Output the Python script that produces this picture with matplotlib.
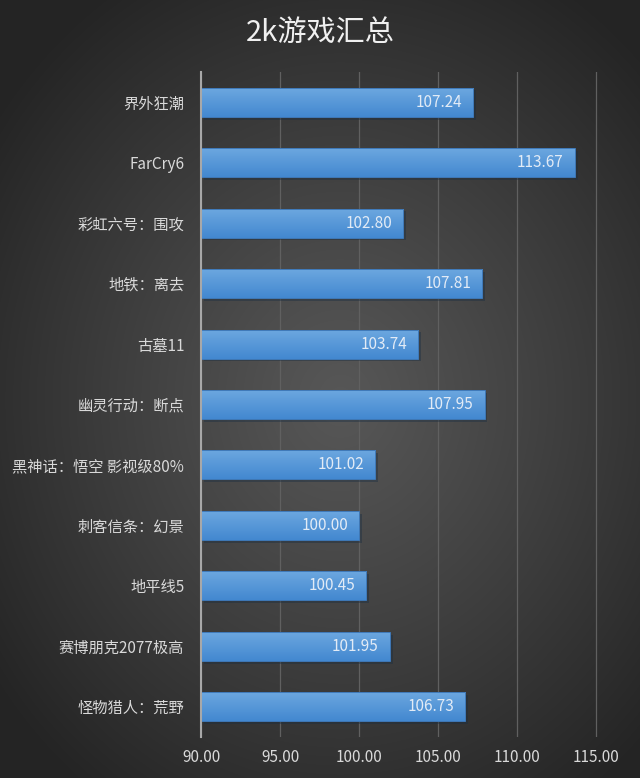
import numpy as np
import matplotlib
matplotlib.use("Agg")
import matplotlib.pyplot as plt
import matplotlib.patheffects as pe
from matplotlib.colors import LinearSegmentedColormap

plt.rcParams['font.family'] = ['Noto Sans CJK SC', 'DejaVu Sans']

# 数据（从上到下）
games = ['界外狂潮', 'FarCry6', '彩虹六号：围攻', '地铁：离去', '古墓11',
         '幽灵行动：断点', '黑神话：悟空 影视级80%', '刺客信条：幻景',
         '地平线5', '赛博朋克2077极高', '怪物猎人：荒野']
scores = [107.24, 113.67, 102.80, 107.81, 103.74,
          107.95, 101.02, 100.00, 100.45, 101.95, 106.73]
xticks = [90, 95, 100, 105, 110, 115]

W, H = 640, 778
fig = plt.figure(figsize=(W / 100, H / 100), dpi=100)

# 径向渐变背景
bg = fig.add_axes([0, 0, 1, 1])
yy, xx = np.mgrid[0:H, 0:W]
r = np.sqrt(((xx - 340) / 420.0) ** 2 + ((yy - 400) / 480.0) ** 2)
r = np.clip(r, 0, 1)
inner, outer = 0x57, 0x25
g = (inner + (outer - inner) * r ** 1.1) / 255.0
bg.imshow(np.dstack([g, g, g]), aspect='auto', extent=(0, 1, 0, 1))
bg.set_axis_off()

ax = fig.add_axes([201 / W, (H - 737) / H, (W - 201) / W, 665 / H])
ax.patch.set_alpha(0)

y = np.arange(len(games))
bh = 0.48
bars = ax.barh(y, [s - 90 for s in scores], left=90, height=bh,
               color='#5596d8', edgecolor='none', zorder=3,
               path_effects=[pe.SimplePatchShadow(offset=(2, -2), alpha=0.4),
                             pe.Normal()])

cmap = LinearSegmentedColormap.from_list('bar', ['#6da8e0', '#4388d0'])
grad = np.linspace(0, 1, 64).reshape(-1, 1)
for yi, s, b in zip(y, scores, bars):
    im = ax.imshow(grad, cmap=cmap, aspect='auto', zorder=4,
                   extent=(90, s, yi + bh / 2, yi - bh / 2))
    im.set_clip_path(b)
    ax.barh(yi, s - 90, left=90, height=bh, fill=False,
            edgecolor='#3f79b8', linewidth=0.7, zorder=5)
    ax.annotate(f'{s:.2f}', (s, yi), xytext=(-8, 0), textcoords='offset points',
                ha='right', va='center', color='#e2ebf6', fontsize=11,
                zorder=6)

ax.set_xlim(90, 90 + (W - 201) / 15.8)
ax.set_ylim(len(games) - 0.5, -0.5)
ax.set_xticks(xticks)
ax.set_xticklabels([f'{t:.2f}' for t in xticks])
ax.set_yticks(y)
ax.set_yticklabels(games)
ax.tick_params(axis='both', length=0, colors='#d9d9d9', labelsize=11)
ax.tick_params(axis='y', pad=12)
ax.tick_params(axis='x', pad=9)
ax.grid(axis='x', color='#606060', linewidth=0.9, zorder=1)
for side in ['top', 'right', 'bottom']:
    ax.spines[side].set_visible(False)
ax.spines['left'].set_color('#a8a8a8')
ax.spines['left'].set_linewidth(1.5)
ax.spines['left'].set_zorder(7)

fig.text(0.5, 1 - 33 / H, '2k游戏汇总', ha='center', va='center',
         color='#f0f0f0', fontsize=21)

fig.savefig('out.png', dpi=100)
